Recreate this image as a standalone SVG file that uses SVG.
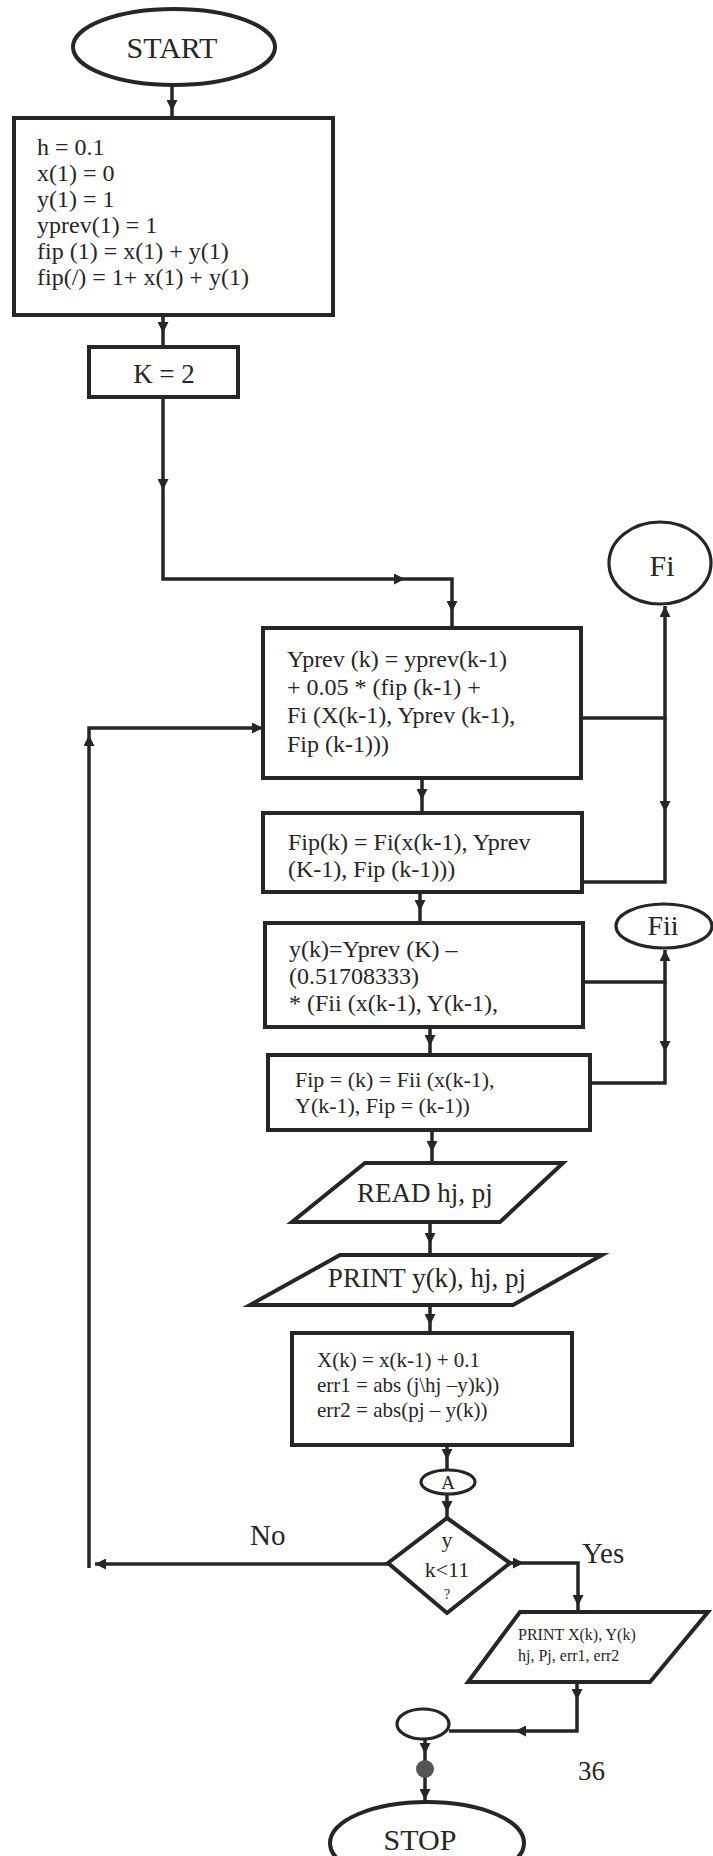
<svg xmlns="http://www.w3.org/2000/svg" width="713" height="1856" viewBox="0 0 713 1856">
<defs>
<style>
.shape{fill:none;stroke:#262626;stroke-width:4}
.thin{fill:none;stroke:#262626;stroke-width:3.2}
.conn{fill:none;stroke:#262626;stroke-width:3.5}
text{font-family:"Liberation Serif","Times New Roman",serif;fill:#262626}
.c{text-anchor:middle}
</style>
<marker id="ah" viewBox="0 0 10 10" refX="10" refY="5" markerWidth="13" markerHeight="11" markerUnits="userSpaceOnUse" orient="auto"><path d="M0,0 L10,5 L0,10 z" fill="#262626"/></marker>
</defs>
<rect width="713" height="1856" fill="#ffffff"/>

<g id="connectors">
<path class="conn" d="M172,85 V111" marker-end="url(#ah)"/><path class="conn" d="M172,111 V118"/>
<path class="conn" d="M163,315 V333" marker-end="url(#ah)"/><path class="conn" d="M163,333 V347"/>
<path class="conn" d="M163,397 V490" marker-end="url(#ah)"/><path class="conn" d="M163,490 V579 H405" marker-end="url(#ah)"/><path class="conn" d="M405,579 H452 V612" marker-end="url(#ah)"/><path class="conn" d="M452,612 V628"/>
<path class="conn" d="M422,778 V800" marker-end="url(#ah)"/><path class="conn" d="M422,800 V813"/>
<path class="conn" d="M420,892 V911" marker-end="url(#ah)"/><path class="conn" d="M420,911 V923"/>
<path class="conn" d="M430,1027 V1046" marker-end="url(#ah)"/><path class="conn" d="M430,1046 V1055"/>
<path class="conn" d="M432,1130 V1152" marker-end="url(#ah)"/><path class="conn" d="M432,1152 V1163"/>
<path class="conn" d="M430,1222 V1244" marker-end="url(#ah)"/><path class="conn" d="M430,1244 V1255"/>
<path class="conn" d="M430,1305 V1325" marker-end="url(#ah)"/><path class="conn" d="M430,1325 V1333"/>
<path class="conn" d="M447,1445 V1460" marker-end="url(#ah)"/><path class="conn" d="M447,1460 V1470"/>
<path class="conn" d="M447,1494 V1512" marker-end="url(#ah)"/><path class="conn" d="M447,1512 V1518"/>
<path class="conn" d="M388,1564 H95" marker-end="url(#ah)"/>
<path class="conn" d="M89,1568 V735" marker-end="url(#ah)"/>
<path class="conn" d="M89,735 V728 H263" marker-end="url(#ah)"/>
<path class="conn" d="M510,1563 H524" marker-end="url(#ah)"/><path class="conn" d="M524,1563 H578 V1606" marker-end="url(#ah)"/><path class="conn" d="M578,1606 V1612"/>
<path class="conn" d="M577,1682 V1700" marker-end="url(#ah)"/><path class="conn" d="M577,1700 V1731 H515" marker-end="url(#ah)"/><path class="conn" d="M515,1731 H449"/>
<path class="conn" d="M425,1740 V1754" marker-end="url(#ah)"/><path class="conn" d="M425,1754 V1800" marker-end="url(#ah)"/><path class="conn" d="M425,1800 V1802"/>
<circle cx="425" cy="1769" r="9" fill="#555555"/>
<path class="conn" d="M581,718 H665 V606" marker-end="url(#ah)"/><path class="conn" d="M665,718 V812" marker-end="url(#ah)"/><path class="conn" d="M665,812 V882 H582"/>
<path class="conn" d="M583,982 H665 V950" marker-end="url(#ah)"/><path class="conn" d="M665,982 V1052" marker-end="url(#ah)"/><path class="conn" d="M665,1052 V1083 H590"/>
</g>

<g id="start">
<ellipse class="shape" cx="174" cy="47" rx="101" ry="38"/>
<text class="c" x="172" y="58" font-size="30">START</text>
</g>

<g id="init">
<rect class="shape" x="14" y="118" width="319" height="197"/>
<text font-size="24">
<tspan x="37" y="155">h = 0.1</tspan>
<tspan x="37" y="181">x(1) = 0</tspan>
<tspan x="37" y="207">y(1) = 1</tspan>
<tspan x="37" y="233">yprev(1) = 1</tspan>
<tspan x="37" y="259">fip (1) = x(1) + y(1)</tspan>
<tspan x="37" y="285">fip(/) = 1+ x(1) + y(1)</tspan>
</text>
</g>

<g id="k2">
<rect class="shape" x="89" y="347" width="149" height="50"/>
<text class="c" x="164" y="383" font-size="27">K = 2</text>
</g>

<g id="yprev">
<rect class="shape" x="263" y="628" width="318" height="150"/>
<text font-size="24">
<tspan x="287" y="667">Yprev (k) = yprev(k-1)</tspan>
<tspan x="287" y="695">+ 0.05 * (fip (k-1) +</tspan>
<tspan x="287" y="723">Fi (X(k-1), Yprev (k-1),</tspan>
<tspan x="287" y="752">Fip (k-1)))</tspan>
</text>
</g>

<g id="fi">
<ellipse class="thin" cx="660" cy="563" rx="51" ry="41"/>
<text class="c" x="662" y="576" font-size="30">Fi</text>
</g>

<g id="fipk">
<rect class="shape" x="263" y="813" width="319" height="79"/>
<text font-size="24">
<tspan x="288" y="850">Fip(k) = Fi(x(k-1), Yprev</tspan>
<tspan x="288" y="877">(K-1), Fip (k-1)))</tspan>
</text>
</g>

<g id="yk">
<rect class="shape" x="265" y="923" width="318" height="104"/>
<text font-size="24">
<tspan x="289" y="957">y(k)=Yprev (K) –</tspan>
<tspan x="289" y="984">(0.51708333)</tspan>
<tspan x="289" y="1011">* (Fii (x(k-1), Y(k-1),</tspan>
</text>
</g>

<g id="fii">
<ellipse class="thin" cx="664" cy="926" rx="48" ry="22"/>
<text class="c" x="663" y="935" font-size="28">Fii</text>
</g>

<g id="fip2">
<rect class="shape" x="268" y="1055" width="322" height="75"/>
<text font-size="22">
<tspan x="295" y="1087">Fip = (k) = Fii (x(k-1),</tspan>
<tspan x="295" y="1113">Y(k-1), Fip = (k-1))</tspan>
</text>
</g>

<g id="read">
<polygon class="shape" points="365,1163 563,1163 500,1222 292,1222"/>
<text class="c" x="425" y="1202" font-size="27">READ hj, pj</text>
</g>

<g id="print1">
<polygon class="shape" points="340,1255 602,1255 513,1305 250,1305"/>
<text class="c" x="427" y="1287" font-size="27">PRINT y(k), hj, pj</text>
</g>

<g id="xk">
<rect class="shape" x="292" y="1333" width="280" height="112"/>
<text font-size="21">
<tspan x="317" y="1367">X(k) = x(k-1) + 0.1</tspan>
<tspan x="317" y="1392">err1 = abs (j\hj –y)k))</tspan>
<tspan x="317" y="1417">err2 = abs(pj – y(k))</tspan>
</text>
</g>

<g id="connA">
<ellipse class="thin" cx="448" cy="1482" rx="27" ry="12"/>
<text class="c" x="448" y="1489" font-size="19">A</text>
</g>

<g id="decision">
<polygon class="shape" points="447,1518 510,1563 447,1613 388,1563"/>
<text class="c" x="447" y="1547" font-size="22">y</text>
<text class="c" x="447" y="1577" font-size="22">k&lt;11</text>
<text class="c" x="447" y="1599" font-size="14">?</text>
</g>

<g id="labels">
<text x="250" y="1545" font-size="29">No</text>
<text x="582" y="1563" font-size="29">Yes</text>
<text x="578" y="1780" font-size="27">36</text>
</g>

<g id="print2">
<polygon class="shape" points="520,1612 708,1612 650,1682 468,1682"/>
<text font-size="16">
<tspan x="518" y="1640">PRINT X(k), Y(k)</tspan>
<tspan x="518" y="1661">hj, Pj, err1, err2</tspan>
</text>
</g>

<g id="connB">
<ellipse class="thin" cx="423" cy="1724" rx="26" ry="15"/>
</g>

<g id="stop">
<ellipse class="shape" cx="427" cy="1843" rx="97" ry="41"/>
<text class="c" x="420" y="1850" font-size="30">STOP</text>
</g>
</svg>
